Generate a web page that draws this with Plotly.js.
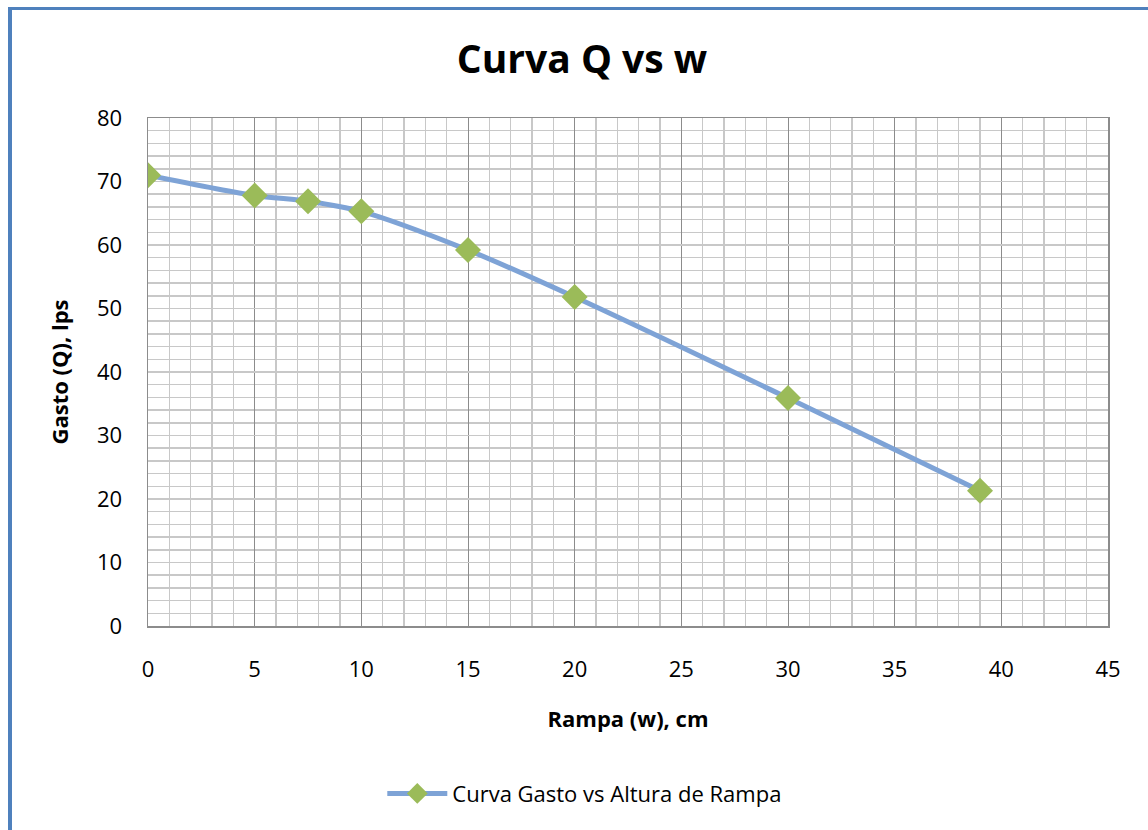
<!DOCTYPE html>
<html>
<head>
<meta charset="utf-8">
<script src="https://cdn.plot.ly/plotly-3.0.1.min.js"></script>
<style>
  html, body { margin: 0; padding: 0; background: #fff; }
  #wrap { position: relative; width: 1148px; height: 830px; }
  #chart { position: absolute; left: 0; top: 0; width: 1148px; height: 830px; }
  #frame { position: absolute; left: 8px; top: 7px; width: 1160px; height: 900px;
           border-left: 4px solid #4F81BD; border-top: 3px solid #4F81BD; pointer-events: none; }
</style>
</head>
<body>
<div id="wrap">
  <div id="chart"></div>
  <div id="frame"></div>
</div>
<script>
const rampa = [0, 5, 7.5, 10, 15, 20, 30, 39];
const gasto = [71, 67.8, 66.9, 65.3, 59.2, 51.8, 35.9, 21.3];
const seriesName = "Curva Gasto vs Altura de Rampa";
const chartTitle = "Curva Q vs w";
const xTitle = "Rampa (w), cm";
const yTitle = "Gasto (Q), lps";

const FONT = "Open Sans, Noto Sans, sans-serif";

const trace = {
  x: rampa, y: gasto, name: seriesName,
  type: 'scatter', mode: 'lines+markers',
  line: { color: '#7EA3D6', width: 5, shape: 'spline', smoothing: 0.8 },
  marker: { symbol: 'diamond', size: 20, color: '#9BBB59', line: { width: 0 } }
};

const layout = {
  width: 1148, height: 830,
  margin: { l: 148, r: 40, t: 118, b: 204 },
  paper_bgcolor: '#ffffff', plot_bgcolor: '#ffffff',
  font: { family: FONT, color: '#000', size: 22 },
  title: { text: '<b>' + chartTitle + '</b>', font: { family: FONT, size: 39, color: '#000' },
           x: 0.507, xanchor: 'center', y: 0.928, yanchor: 'middle' },
  xaxis: {
    range: [0, 45], dtick: 5, tick0: 0,
    showgrid: true, gridcolor: '#8C8C8C', gridwidth: 1,
    minor: { dtick: 1, showgrid: true, gridcolor: '#C8C8C8', gridwidth: 1.5, ticks: '' },
    showline: true, linecolor: '#8C8C8C', linewidth: 1.5, mirror: true,
    zeroline: false, ticks: '', ticklabelstandoff: 23,
    tickfont: { family: FONT, size: 22, color: '#000' },
    title: { text: '<b>' + xTitle + '</b>', font: { family: FONT, size: 22, color: '#000' }, standoff: 29 }
  },
  yaxis: {
    range: [0, 80], dtick: 10, tick0: 0,
    showgrid: true, gridcolor: '#C8C8C8', gridwidth: 1.5,
    minor: { dtick: 2, showgrid: true, gridcolor: '#C8C8C8', gridwidth: 1.5, ticks: '' },
    showline: true, linecolor: '#8C8C8C', linewidth: 1.5, mirror: true,
    zeroline: false, ticks: '', ticklabelstandoff: 20,
    tickfont: { family: FONT, size: 22, color: '#000' },
    title: { text: '<b>' + yTitle + '</b>', font: { family: FONT, size: 22, color: '#000' }, standoff: 22 }
  },
  showlegend: true,
  legend: { orientation: 'h', x: 0.455, xanchor: 'center', y: -0.33, yanchor: 'middle',
            font: { family: FONT, size: 22, color: '#000' }, itemwidth: 60 }
};

Plotly.newPlot('chart', [trace], layout, { displayModeBar: false, staticPlot: true });
</script>
</body>
</html>
